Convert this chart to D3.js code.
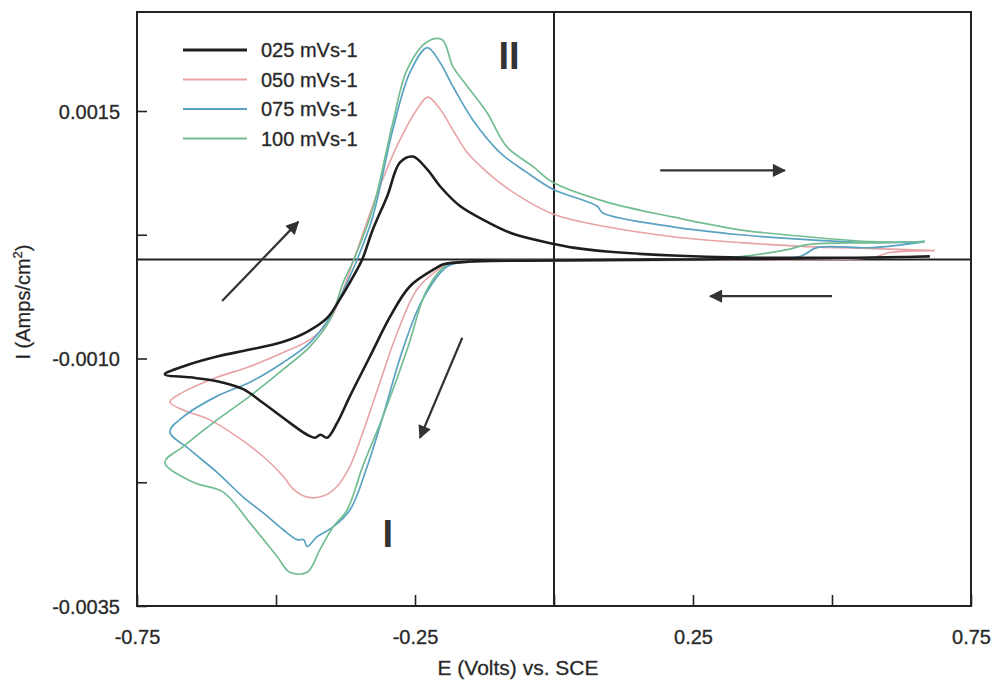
<!DOCTYPE html>
<html>
<head>
<meta charset="utf-8">
<script src="https://cdn.jsdelivr.net/npm/d3@7"></script>
<style>
  html, body { margin: 0; padding: 0; background: #fff; }
  svg { display: block; font-family: "Liberation Sans", Arial, sans-serif; }
</style>
</head>
<body>
<svg id="chart" width="996" height="682"></svg>
<script>
// Cyclic voltammograms: [E (V vs SCE), I (A/cm2)], scan starts at the right vertex
const cv025 = [
  [0.676, 0.00003], [0.455, 0.00001], [0.214, 0.0], [0.0, -0.00001], [-0.150, -0.00002],
  [-0.200, -0.00005], [-0.210, -0.00008], [-0.259, -0.00027], [-0.295, -0.00058],
  [-0.331, -0.00098], [-0.367, -0.00138], [-0.390, -0.00165], [-0.408, -0.00180],
  [-0.420, -0.00177], [-0.430, -0.00180], [-0.444, -0.00177], [-0.475, -0.00165],
  [-0.523, -0.00145], [-0.559, -0.00131], [-0.606, -0.00123], [-0.655, -0.00119],
  [-0.700, -0.00116],
  [-0.667, -0.00108], [-0.606, -0.00098], [-0.547, -0.00091], [-0.487, -0.00083],
  [-0.444, -0.00073], [-0.408, -0.00059], [-0.385, -0.00040], [-0.361, -0.00017],
  [-0.345, 0.0], [-0.326, 0.00030], [-0.300, 0.00064], [-0.277, 0.00098],
  [-0.254, 0.00104], [-0.228, 0.00091], [-0.205, 0.00074], [-0.169, 0.00054],
  [-0.120, 0.00038], [-0.074, 0.00026], [-0.002, 0.00016], [0.034, 0.00012],
  [0.095, 0.00008], [0.214, 0.00004], [0.335, 0.00002], [0.574, 0.00002], [0.676, 0.00003]
];
const cv050 = [
  [0.685, 0.00009], [0.604, 0.00007], [0.574, 0.00002], [0.455, 0.0], [0.200, -0.00001],
  [0.0, -0.00001], [-0.150, -0.00002], [-0.192, -0.00005], [-0.200, -0.00007],
  [-0.246, -0.00030], [-0.282, -0.00074], [-0.313, -0.00124], [-0.344, -0.00175],
  [-0.367, -0.00209], [-0.390, -0.00229], [-0.415, -0.00239], [-0.444, -0.00240],
  [-0.469, -0.00232], [-0.487, -0.00219], [-0.523, -0.00199], [-0.570, -0.00179],
  [-0.619, -0.00162], [-0.667, -0.00152], [-0.691, -0.00144],
  [-0.667, -0.00134], [-0.606, -0.00119], [-0.547, -0.00108], [-0.487, -0.00094],
  [-0.439, -0.00081], [-0.403, -0.00061], [-0.379, -0.00030], [-0.360, 0.0],
  [-0.313, 0.00074], [-0.277, 0.00121], [-0.246, 0.00152], [-0.227, 0.00164],
  [-0.205, 0.00152], [-0.182, 0.00131], [-0.156, 0.00108], [-0.120, 0.00088],
  [-0.074, 0.00068], [-0.002, 0.00046], [0.095, 0.00033], [0.214, 0.00023],
  [0.335, 0.00017], [0.455, 0.00013], [0.574, 0.00011], [0.685, 0.00009]
];
const cv075 = [
  [0.667, 0.00018], [0.574, 0.00012], [0.473, 0.00012], [0.442, 0.00003], [0.300, 0.0],
  [0.0, -0.00001], [-0.150, -0.00002], [-0.192, -0.00007], [-0.236, -0.00040],
  [-0.272, -0.00091], [-0.308, -0.00159], [-0.336, -0.00209], [-0.367, -0.00253],
  [-0.397, -0.00270], [-0.426, -0.00280], [-0.444, -0.00290], [-0.450, -0.00283],
  [-0.462, -0.00283], [-0.487, -0.00273], [-0.523, -0.00256], [-0.559, -0.00240],
  [-0.606, -0.00215], [-0.655, -0.00192], [-0.691, -0.00174],
  [-0.667, -0.00159], [-0.606, -0.00138], [-0.547, -0.00124], [-0.487, -0.00104],
  [-0.439, -0.00084], [-0.403, -0.00058], [-0.372, -0.00023], [-0.354, 0.0],
  [-0.326, 0.00043], [-0.290, 0.00131], [-0.259, 0.00189], [-0.228, 0.00214],
  [-0.205, 0.00199], [-0.182, 0.00175], [-0.146, 0.00141], [-0.097, 0.00108],
  [-0.049, 0.00088], [-0.002, 0.00071], [0.077, 0.00054], [0.088, 0.00047],
  [0.214, 0.00033], [0.335, 0.00025], [0.455, 0.00020], [0.574, 0.00017], [0.667, 0.00018]
];
const cv100 = [
  [0.667, 0.00018], [0.574, 0.00017], [0.455, 0.00015], [0.420, 0.00010], [0.299, 0.00001],
  [0.0, -0.00001], [-0.150, -0.00002], [-0.192, -0.00005], [-0.228, -0.00030],
  [-0.264, -0.00091], [-0.308, -0.00159], [-0.344, -0.00209], [-0.372, -0.00253],
  [-0.397, -0.00270], [-0.421, -0.00293], [-0.444, -0.00316], [-0.475, -0.00316],
  [-0.498, -0.00300], [-0.547, -0.00266], [-0.595, -0.00235], [-0.649, -0.00225],
  [-0.700, -0.00205],
  [-0.667, -0.00189], [-0.606, -0.00162], [-0.547, -0.00138], [-0.487, -0.00111],
  [-0.439, -0.00088], [-0.403, -0.00061], [-0.379, -0.00023], [-0.360, 0.0],
  [-0.326, 0.00051], [-0.290, 0.00138], [-0.264, 0.00192], [-0.228, 0.00220],
  [-0.201, 0.00222], [-0.182, 0.00195], [-0.156, 0.00175], [-0.120, 0.00148],
  [-0.085, 0.00114], [-0.038, 0.00094], [-0.002, 0.00078], [0.095, 0.00058],
  [0.214, 0.00043], [0.335, 0.00030], [0.455, 0.00023], [0.574, 0.00018], [0.667, 0.00018]
];

const seriesNames = ["025 mVs-1", "050 mVs-1", "075 mVs-1", "100 mVs-1"];
const seriesData = [cv025, cv050, cv075, cv100];
const seriesColors = ["#1e1e1e", "#e9a3a6", "#5aa2c2", "#72bd92"];
const seriesWidths = [2.6, 1.6, 1.7, 1.7];

const xTicks = [-0.75, -0.5, -0.25, 0, 0.25, 0.5, 0.75];
const xTickLabels = { "-0.75": "-0.75", "-0.25": "-0.25", "0.25": "0.25", "0.75": "0.75" };
const yTicks = [0.0015, 0.00025, -0.0010, -0.00225, -0.0035];
const yTickLabels = { "0.0015": "0.0015", "-0.001": "-0.0010", "-0.0035": "-0.0035" };

// scan direction arrows [[E0, I0], [E1, I1]]
const arrows = [
  [[-0.597, -0.00042], [-0.460, 0.00038]],
  [[-0.165, -0.00079], [-0.241, -0.00180]],
  [[0.191, 0.00090], [0.415, 0.00090]],
  [[0.500, -0.00037], [0.281, -0.00037]]
];
const peakLabels = [
  { text: "II", at: [-0.081, 0.00192] },
  { text: "I", at: [-0.299, -0.00290] }
];

const svg = d3.select("#chart");
const x = d3.scaleLinear().domain([-0.75, 0.75]).range([137, 971]);
const y = d3.scaleLinear().domain([-0.0035, 0.0025]).range([606, 12]);
const ink = "#222";

// frame
svg.append("rect")
  .attr("x", x(-0.75)).attr("y", y(0.0025))
  .attr("width", x(0.75) - x(-0.75)).attr("height", y(-0.0035) - y(0.0025))
  .attr("fill", "none").attr("stroke", ink).attr("stroke-width", 2);

// zero lines
svg.append("line")
  .attr("x1", x(-0.75)).attr("x2", x(0.75)).attr("y1", y(0)).attr("y2", y(0))
  .attr("stroke", ink).attr("stroke-width", 2);
svg.append("line")
  .attr("x1", x(0)).attr("x2", x(0)).attr("y1", y(0.0025)).attr("y2", y(-0.0035))
  .attr("stroke", ink).attr("stroke-width", 2);

// axes, ticks pointing inward
const xAxis = svg.append("g")
  .attr("transform", `translate(0,${y(-0.0035)})`)
  .call(d3.axisBottom(x).tickValues(xTicks).tickSize(-11).tickSizeOuter(0)
    .tickFormat(d => xTickLabels[String(d)] || ""));
xAxis.select(".domain").remove();
xAxis.selectAll(".tick line").attr("stroke", ink).attr("stroke-width", 1.6);
xAxis.selectAll(".tick text")
  .attr("y", 0).attr("dy", 0).attr("transform", "translate(0,38)")
  .attr("font-size", 20).attr("fill", ink)
  .attr("stroke", "#444").attr("stroke-width", 0.35);

const yAxis = svg.append("g")
  .attr("transform", `translate(${x(-0.75)},0)`)
  .call(d3.axisLeft(y).tickValues(yTicks).tickSize(-10).tickSizeOuter(0)
    .tickFormat(d => yTickLabels[String(d)] || ""));
yAxis.select(".domain").remove();
yAxis.selectAll(".tick line").attr("stroke", ink).attr("stroke-width", 1.6);
yAxis.selectAll(".tick text")
  .attr("x", -17).attr("dy", "0.36em")
  .attr("font-size", 20).attr("fill", ink)
  .attr("stroke", "#444").attr("stroke-width", 0.35);

// axis titles
svg.append("text")
  .attr("x", 518).attr("y", 675)
  .attr("text-anchor", "middle").attr("font-size", 21).attr("fill", ink)
  .attr("stroke", "#444").attr("stroke-width", 0.3)
  .text("E (Volts) vs. SCE");
const yTitle = svg.append("text")
  .attr("transform", "translate(30,302) rotate(-90)")
  .attr("text-anchor", "middle").attr("font-size", 20).attr("fill", ink)
  .attr("stroke", "#444").attr("stroke-width", 0.3);
yTitle.append("tspan").text("I (Amps/cm");
yTitle.append("tspan").attr("font-size", 13).attr("dy", -8).text("2");
yTitle.append("tspan").attr("dy", 8).text(")");

// curves
const line = d3.line()
  .x(d => x(d[0])).y(d => y(d[1]))
  .curve(d3.curveCatmullRom.alpha(0.5));
const order = [1, 2, 3, 0];
order.forEach(i => {
  svg.append("path")
    .datum(seriesData[i])
    .attr("d", line)
    .attr("fill", "none")
    .attr("stroke", seriesColors[i])
    .attr("stroke-width", seriesWidths[i])
    .attr("stroke-linejoin", "round");
});

// arrows
svg.append("defs").append("marker")
  .attr("id", "head")
  .attr("viewBox", "0 0 10 10")
  .attr("refX", 9).attr("refY", 5)
  .attr("markerWidth", 7).attr("markerHeight", 6)
  .attr("markerUnits", "strokeWidth")
  .attr("orient", "auto")
  .append("path").attr("d", "M0,0 L10,5 L0,10 Z").attr("fill", "#333");
arrows.forEach(a => {
  svg.append("line")
    .attr("x1", x(a[0][0])).attr("y1", y(a[0][1]))
    .attr("x2", x(a[1][0])).attr("y2", y(a[1][1]))
    .attr("stroke", "#333").attr("stroke-width", 2.2)
    .attr("marker-end", "url(#head)");
});

// peak labels
peakLabels.forEach(p => {
  svg.append("text")
    .attr("x", x(p.at[0])).attr("y", y(p.at[1]))
    .attr("text-anchor", "middle").attr("font-size", 38).attr("font-weight", "bold")
    .attr("fill", "#333")
    .text(p.text);
});

// legend
const legend = svg.append("g");
seriesNames.forEach((name, i) => {
  const ly = 50 + i * 29.5;
  legend.append("line")
    .attr("x1", 183).attr("x2", 247).attr("y1", ly).attr("y2", ly)
    .attr("stroke", seriesColors[i]).attr("stroke-width", i === 0 ? 3 : 2);
  legend.append("text")
    .attr("x", 261).attr("y", ly).attr("dy", "0.36em")
    .attr("font-size", 20).attr("fill", ink)
    .attr("stroke", "#444").attr("stroke-width", 0.35)
    .text(name);
});
</script>
</body>
</html>
